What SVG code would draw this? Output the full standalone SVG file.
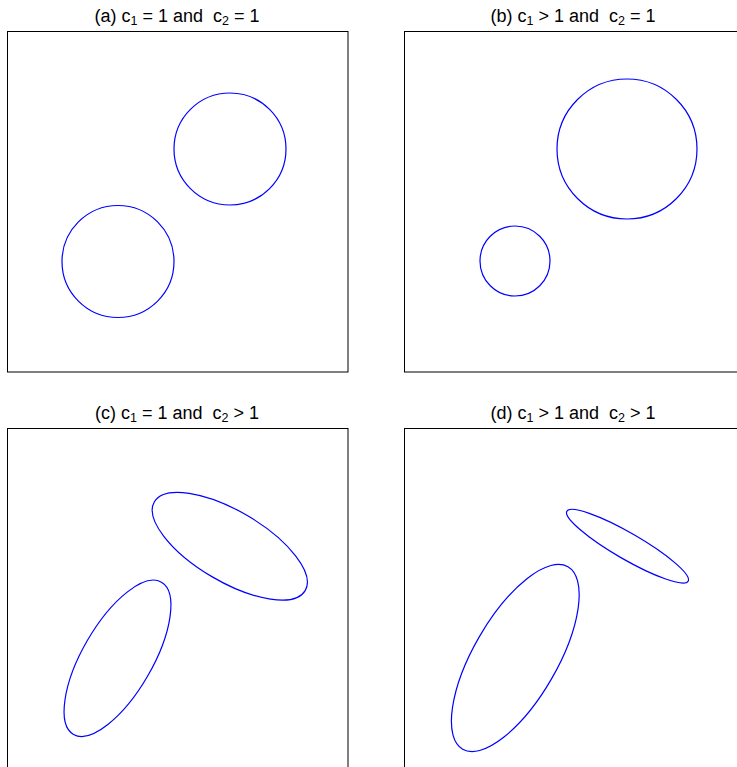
<svg xmlns="http://www.w3.org/2000/svg" width="737" height="767" viewBox="0 0 737 767">
<style>
.frame{fill:none;stroke:#000;stroke-width:1}
.shape{fill:none;stroke:#0000ff;stroke-width:1.2}
.title{font-family:"Liberation Sans",Arial,sans-serif;font-size:18px;fill:#000;text-anchor:middle}
.sub{font-size:12.5px}
</style>
<rect width="737" height="767" fill="#fff"/>
<g id="panel-a">
<text class="title" x="177" y="22">(a) c<tspan class="sub" dy="3">1</tspan><tspan dy="-3" xml:space="preserve"> = 1 and  c</tspan><tspan class="sub" dy="3">2</tspan><tspan dy="-3"> = 1</tspan></text>
<rect class="frame" x="7.5" y="31.5" width="340.5" height="340.5"/>
<circle class="shape" cx="118" cy="261.5" r="56"/>
<circle class="shape" cx="230" cy="149" r="56"/>
</g>
<g id="panel-b">
<text class="title" x="573" y="22">(b) c<tspan class="sub" dy="3">1</tspan><tspan dy="-3" xml:space="preserve"> &gt; 1 and  c</tspan><tspan class="sub" dy="3">2</tspan><tspan dy="-3"> = 1</tspan></text>
<rect class="frame" x="404.5" y="31.5" width="340.5" height="340.5"/>
<circle class="shape" cx="515" cy="261" r="35"/>
<circle class="shape" cx="627" cy="149" r="70"/>
</g>
<g id="panel-c">
<text class="title" x="177" y="419">(c) c<tspan class="sub" dy="3">1</tspan><tspan dy="-3" xml:space="preserve"> = 1 and  c</tspan><tspan class="sub" dy="3">2</tspan><tspan dy="-3"> &gt; 1</tspan></text>
<rect class="frame" x="7.5" y="428.5" width="340.5" height="340.5"/>
<ellipse class="shape" cx="0" cy="0" rx="87.5" ry="35.3" transform="translate(229.8 546.2) rotate(30.5)"/>
<ellipse class="shape" cx="0" cy="0" rx="87.9" ry="35" transform="translate(117.5 658.3) rotate(-60)"/>
</g>
<g id="panel-d">
<text class="title" x="573" y="419">(d) c<tspan class="sub" dy="3">1</tspan><tspan dy="-3" xml:space="preserve"> &gt; 1 and  c</tspan><tspan class="sub" dy="3">2</tspan><tspan dy="-3"> &gt; 1</tspan></text>
<rect class="frame" x="404.5" y="428.5" width="340.5" height="340.5"/>
<ellipse class="shape" cx="0" cy="0" rx="70" ry="13.2" transform="translate(627.5 546.2) rotate(30)"/>
<ellipse class="shape" cx="0" cy="0" rx="105.3" ry="41.8" transform="translate(515.3 658) rotate(-60)"/>
</g>
<g id="connectors"/>
</svg>
